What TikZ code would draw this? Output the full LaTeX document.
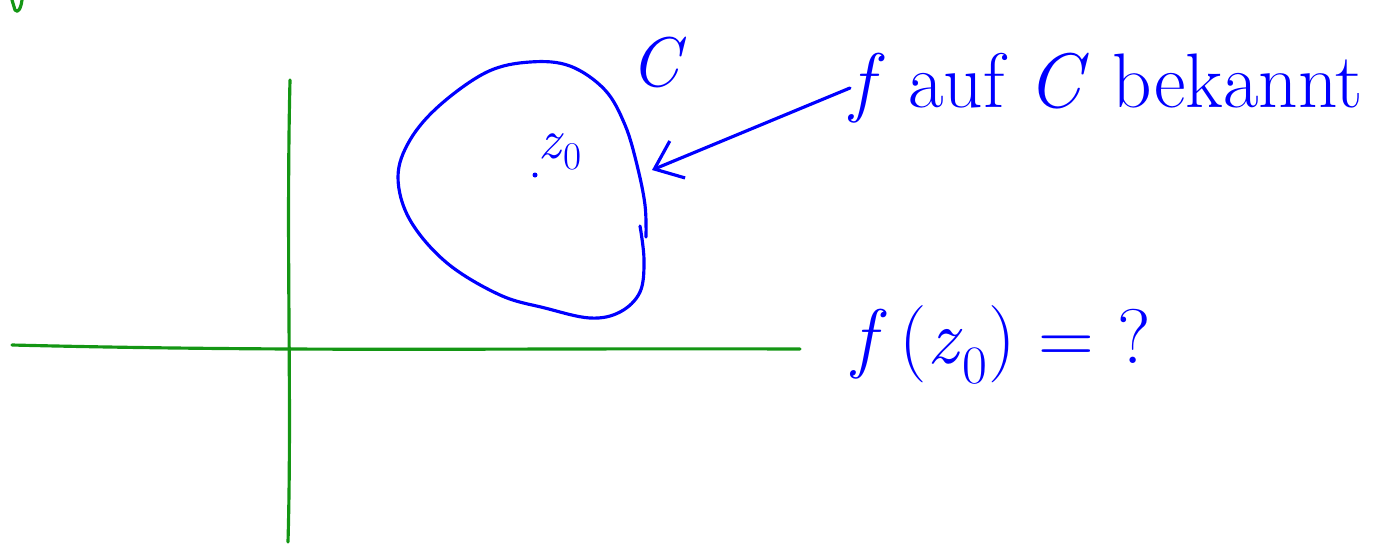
\documentclass[tikz,border=0pt]{standalone}
\usetikzlibrary{arrows.meta}
\definecolor{penblue}{RGB}{0,0,255}
\definecolor{pengreen}{RGB}{20,150,20}
\begin{document}
\begin{tikzpicture}[
      x=0.02cm, y=-0.02cm,
      axis/.style={draw=pengreen, line width=1.8pt, line cap=round, line join=round},
      curve/.style={draw=penblue, line width=1.8pt, line cap=round, line join=round},
      label/.style={text=penblue, inner sep=0pt, font=\fontsize{40}{44}\selectfont},
      arrow/.style={curve, -{Straight Barb[length=5mm, width=8mm, line width=1.8pt]}}
    ]
    \useasboundingbox (0,0) rectangle (1388,545);

    % axes
    \draw[axis] (12,345) .. controls (300,352) and (500,348) .. (800,349);
    \draw[axis] (290,80) .. controls (286,250) and (292,400) .. (288,542);
    \draw[axis] (12,0) -- (15,10) .. controls (18,14) and (21,8) .. (22,0);

    % the curve C
    \draw[curve] plot[smooth, tension=0.6] coordinates {
      (640,226) (644,260) (640,292) (620,312) (590,318) (545,308) (500,295)
      (447,263) (410,220) (398,177) (410,140) (440,105) (487,72) (530,62)
      (570,66) (605,90) (625,125) (637,165) (645,205) (646,237)};
    \fill[penblue] (535,175) circle (2.5);
    \node[label, anchor=south west, font=\fontsize{32}{36}\selectfont] (zpoint) at (538,170) {\textit{z}\textsubscript{0}};
    \node[label] (cname) at (658,62) {\textit{C}};

    % texts
    \node[label, anchor=west, font=\fontsize{44}{48}\selectfont] (known) at (850,88) {\textit{f} auf \textit{C} bekannt};
    \node[label, anchor=west, font=\fontsize{44}{50}\selectfont] (question) at (852,345) {\textit{f}\,(\textit{z}\textsubscript{0}) = ?};

    \coordinate (tip) at (652,170);
    \draw[arrow] (known.west) -- (tip);

  \end{tikzpicture}
\end{document}
